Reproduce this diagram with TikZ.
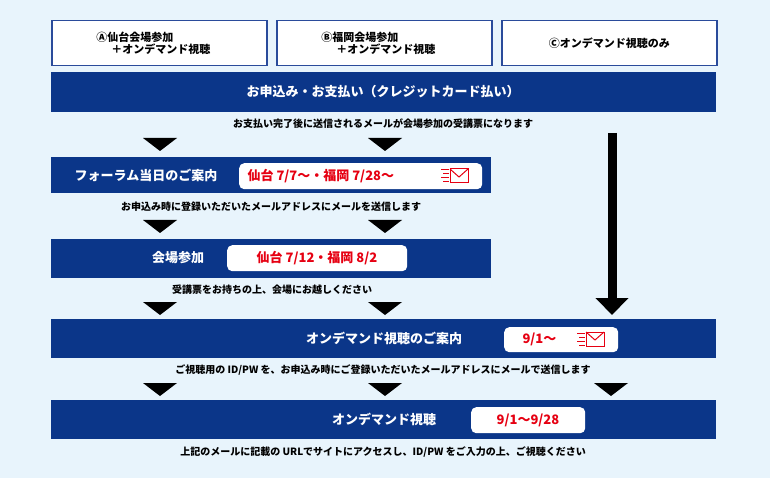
\documentclass[tikz,border=0pt]{standalone}
\usepackage{fontspec}
\setmainfont{Noto Sans CJK JP}
\usetikzlibrary{arrows.meta}
\definecolor{bgblue}{HTML}{E8F4FC}
\definecolor{barblue}{HTML}{0B3689}
\definecolor{boxline}{HTML}{2A4B9B}
\definecolor{datered}{HTML}{E60012}

\begin{document}
\begin{tikzpicture}[x=1pt,y=-1pt,font=\bfseries]
    \tikzset{
        course/.style={draw=boxline,line width=1.5pt,fill=white,minimum width=215pt,minimum height=45pt,anchor=north west,font=\fontsize{11}{12}\selectfont\bfseries,align=left},
        bar/.style={fill=barblue,anchor=north west,inner sep=0pt},
        bartext/.style={text=white,font=\fontsize{13}{14}\selectfont\bfseries},
        datepill/.style={fill=white,rounded corners=5pt,anchor=north west,inner sep=0pt},
        datetext/.style={text=datered,font=\fontsize{13}{14}\selectfont\bfseries,anchor=west},
        note/.style={font=\fontsize{10}{11}\selectfont\bfseries},
        bigarrow/.style={line width=9pt,-{Triangle[width=32pt,length=17pt]}}
    }
    \newcommand{\downtri}[2]{\fill (#1-17,#2) -- (#1+17,#2) -- (#1,#2+13) -- cycle;}
    \newcommand{\mailicon}[2]{
        \begin{scope}[shift={(#1,#2)},draw=datered,line width=1pt]
            \draw (0,-6) -- (8,-6) (2,-2) -- (8,-2) (0,2) -- (8,2) (2,6) -- (8,6);
            \draw (9,-7) rectangle (27,7);
            \draw (9,-7) -- (18,1) -- (27,-7);
        \end{scope}
    }

    \fill[bgblue] (0,0) rectangle (770,478);
    \useasboundingbox (0,0) rectangle (770,478);

    % course boxes
    \node[course,text width=170pt] (coursea) at (51,20) {\hspace*{22pt}Ⓐ仙台会場参加\\\hspace*{37pt}＋オンデマンド視聴};
    \node[course,text width=170pt] (courseb) at (276,20) {\hspace*{22pt}Ⓑ福岡会場参加\\\hspace*{37pt}＋オンデマンド視聴};
    \node[course,align=center,anchor=north west] (coursec) at (501,20) {Ⓒオンデマンド視聴のみ};

    % application
    \node[bar,minimum width=665pt,minimum height=40pt] (apply) at (51,72) {};
    \node[bartext] (applytext) at (383,92) {お申込み・お支払い（クレジットカード払い）};
    \node[note] (applynote) at (383,124) {お支払い完了後に送信されるメールが会場参加の受講票になります};
    \downtri{160}{138}
    \downtri{385}{138}

    % forum guide
    \node[bar,minimum width=440pt,minimum height=36pt] (guide) at (51,157) {};
    \node[bartext] (guidetext) at (146,175) {フォーラム当日のご案内};
    \node[datepill,minimum width=243pt,minimum height=26pt] (guidepill) at (239,163) {};
    \node[datetext] (guidedate) at (244,176) {仙台 7/7〜・福岡 7/28〜};
    \mailicon{441}{176}
    \node[note] (guidenote) at (271,207) {お申込み時に登録いただいたメールアドレスにメールを送信します};
    \downtri{160}{220}
    \downtri{385}{220}

    % venue
    \node[bar,minimum width=440pt,minimum height=39pt] (venue) at (51,239) {};
    \node[bartext] (venuetext) at (178,258) {会場参加};
    \node[datepill,minimum width=180pt,minimum height=26pt] (venuepill) at (227,245) {};
    \node[datetext,anchor=center] (venuedate) at (317,258) {仙台 7/12・福岡 8/2};
    \node[note] (venuenote) at (272,290) {受講票をお持ちの上、会場にお越しください};
    \downtri{160}{302}
    \downtri{385}{302}

    % direct path for course C
    \coordinate (arrowtop) at (612,133);
    \coordinate (arrowtip) at (612,315);
    \draw[bigarrow] (arrowtop) -- (arrowtip);

    % on-demand guide
    \node[bar,minimum width=665pt,minimum height=39pt] (odguide) at (51,319) {};
    \node[bartext] (odguidetext) at (384,338) {オンデマンド視聴のご案内};
    \node[datepill,minimum width=114pt,minimum height=25pt] (odguidepill) at (504,327) {};
    \node[datetext] (odguidedate) at (519,339) {9/1〜};
    \mailicon{577}{339}
    \node[note] (odguidenote) at (383,370) {ご視聴用の ID/PW を、お申込み時にご登録いただいたメールアドレスにメールで送信します};
    \downtri{160}{383}
    \downtri{385}{383}
    \downtri{611}{383}

    % on-demand
    \node[bar,minimum width=665pt,minimum height=39pt] (ondemand) at (51,400) {};
    \node[bartext] (ondemandtext) at (384,419) {オンデマンド視聴};
    \node[datepill,minimum width=114pt,minimum height=26pt] (ondemandpill) at (471,407) {};
    \node[datetext,anchor=center] (ondemanddate) at (528,420) {9/1〜9/28};
    \node[note] (ondemandnote) at (383,452) {上記のメールに記載の URLでサイトにアクセスし、ID/PW をご入力の上、ご視聴ください};
\end{tikzpicture}
\end{document}
